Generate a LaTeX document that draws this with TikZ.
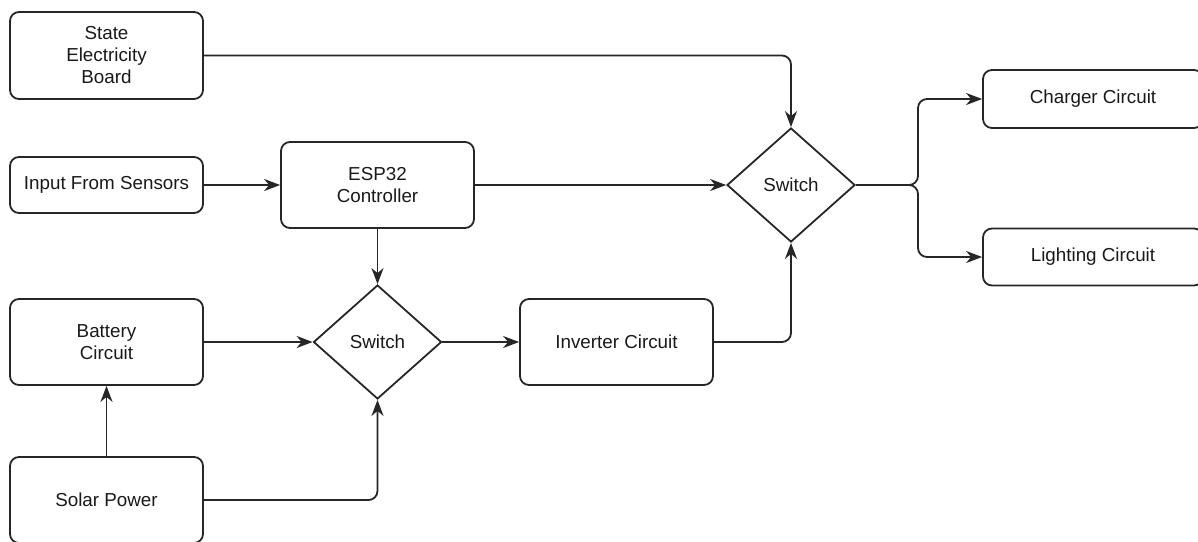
\documentclass[tikz,border=0pt]{standalone}
\usepackage{fontspec}
\setmainfont{Liberation Sans}
\usetikzlibrary{arrows.meta,shapes.geometric}

\begin{document}
\begin{tikzpicture}[x=1pt,y=-1pt,
  blk/.style={draw=black!85, rounded corners=9pt, line width=1.8pt, minimum width=193pt,
    minimum height=86pt, align=center, text=black!90, font=\fontsize{18.8}{22}\selectfont},
  sw/.style={draw=black!85, diamond, line width=1.8pt, aspect=1.12, inner sep=1pt,
    minimum width=128pt, minimum height=114pt, text=black!90, font=\fontsize{18.8}{22}\selectfont},
  arr/.style={draw=black!85, line width=1.8pt, rounded corners=9pt,
    -{Stealth[length=16pt,width=12pt,inset=5pt]}}]
\useasboundingbox (0,0) rectangle (1198,541);

% left column
\node[blk, minimum height=87pt] (seb) at (106.5,55.5) {State\\Electricity\\Board};
\node[blk, minimum height=56pt] (sensors) at (106.5,185) {Input From Sensors};
\node[blk] (battery) at (106.5,342) {Battery\\Circuit};
\node[blk] (solar) at (106.5,500) {Solar Power};

% middle
\node[blk] (esp) at (377.5,185) {ESP32\\Controller};
\node[sw] (swa) at (377.5,342) {Switch};
\node[blk] (inverter) at (616.5,342) {Inverter Circuit};
\node[sw] (swb) at (791,185) {Switch};

% outputs
\node[blk, minimum width=220pt, minimum height=58pt] (charger) at (1093,99) {Charger Circuit};
\node[blk, minimum width=220pt, minimum height=57pt] (lighting) at (1093,257) {Lighting Circuit};
\coordinate (fork) at (918,185);

\draw[arr] (seb.east) -| (swb.north);
\draw[arr] (sensors) -- (esp);
\draw[arr] (esp) -- (swb);
\draw[arr] (esp) -- (swa);
\draw[arr] (battery) -- (swa);
\draw[arr] (solar) -- (battery);
\draw[arr] (solar.east) -| (swa.south);
\draw[arr] (swa) -- (inverter);
\draw[arr] (inverter.east) -| (swb.south);
\draw[arr] (swb.east) -- (fork) |- (charger.west);
\draw[arr] (swb.east) -- (fork) |- (lighting.west);

\end{tikzpicture}
\end{document}
